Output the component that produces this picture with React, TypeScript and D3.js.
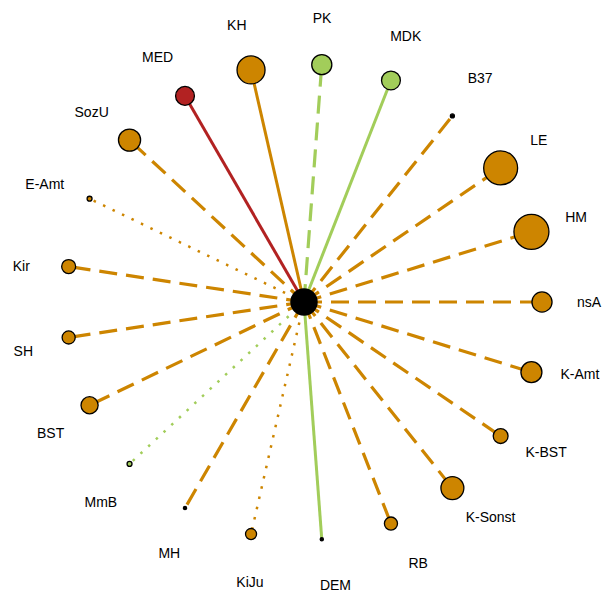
import React from "react";
import * as d3 from "d3";

const treatments = ["nsA", "HM", "LE", "B37", "MDK", "PK", "KH", "MED", "SozU", "E-Amt", "Kir", "SH", "BST", "MmB", "MH", "KiJu", "DEM", "RB", "K-Sonst", "K-BST", "K-Amt"];
const weights = [33, 100, 94, 1.3, 29, 33, 64, 29, 40, 2, 16, 14, 24, 2, 0.7, 10, 0.7, 14, 43, 18, 36];
const groups = ["o", "o", "o", "o", "g", "g", "o", "r", "o", "o", "o", "o", "o", "g", "o", "o", "g", "o", "o", "o", "o"];
const lineKinds = ["dashed", "dashed", "dashed", "dashed", "solid", "dashed", "solid", "solid", "dashed", "dotted", "dashed", "dashed", "dashed", "dotted", "dashed", "dotted", "solid", "dashed", "dashed", "dashed", "dashed"];
const centerWeight = 64;

const W = 603, H = 592;
const cx = 304, cy = 302;
const nodeR = 238;
const labelR = 285;

const colorScale = d3.scaleOrdinal<string, string>().domain(["o", "g", "r"]).range(["#CD8500", "#A2CD5A", "#B22222"]);
const dashScale = d3.scaleOrdinal<string, string>().domain(["solid", "dashed", "dotted"]).range(["none", "18,9", "2.5,8"]);
const widthScale = d3.scaleOrdinal<string, number>().domain(["solid", "dashed", "dotted"]).range([3, 3.2, 2.5]);
const sizeScale = d3.scaleSqrt().domain([0, 100]).range([0, 17.5]);
const angle = d3.scaleLinear().domain([0, treatments.length]).range([0, 2 * Math.PI]);
const labelAngle = d3.scaleLinear().domain([0, treatments.length]).range([0, 2 * Math.PI * 1.0075]);

export default function App() {
  const nodes = treatments.map((t, i) => {
    const a = angle(i);
    const la = labelAngle(i);
    return {
      t,
      x: cx + nodeR * Math.cos(a),
      y: cy - nodeR * Math.sin(a),
      lx: cx + labelR * Math.cos(la),
      ly: cy - labelR * Math.sin(la),
      r: Math.max(sizeScale(weights[i]), 1.6),
      color: colorScale(groups[i]),
      kind: lineKinds[i],
    };
  });
  return (
    <svg width={W} height={H} style={{ position: "absolute", left: 0, top: 0, background: "#fff" }}>
      {nodes.map((n, i) => (
        <line key={"l" + i} x1={cx} y1={cy} x2={n.x} y2={n.y} stroke={n.color}
          strokeWidth={widthScale(n.kind)} strokeDasharray={dashScale(n.kind)} />
      ))}
      <circle cx={cx} cy={cy} r={sizeScale(centerWeight) * 0.98} fill="#000" />
      {nodes.map((n, i) => (
        <circle key={"c" + i} cx={n.x} cy={n.y} r={n.r} fill={n.r < 2 ? "#000" : n.color} stroke="#000" strokeWidth={1.3} />
      ))}
      {nodes.map((n, i) => (
        <text key={"t" + i} x={n.lx} y={n.ly} textAnchor="middle" dominantBaseline="central"
          fontFamily="'Liberation Sans', Arial, sans-serif" fontSize={14} fill="#000">{n.t}</text>
      ))}
    </svg>
  );
}
